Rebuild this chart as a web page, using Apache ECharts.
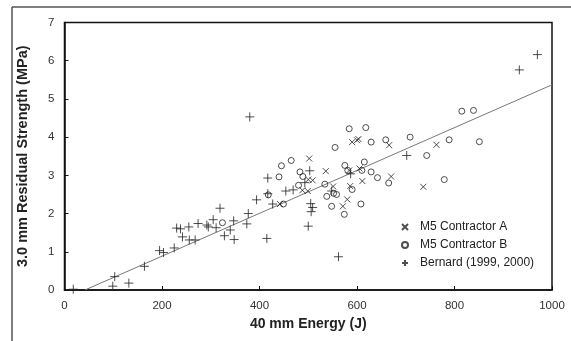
<!DOCTYPE html>
<html>
<head>
<meta charset="utf-8">
<script src="https://cdn.jsdelivr.net/npm/echarts@6/dist/echarts.min.js"></script>
<style>html,body{margin:0;padding:0;background:#fff}#c{width:571px;height:341px}</style>
</head>
<body>
<div id="c"></div>
<script>
var seriesNames = ['M5 Contractor A', 'M5 Contractor B', 'Bernard (1999, 2000)'];
var xTicks = [0, 200, 400, 600, 800, 1000];
var yTicks = [0, 1, 2, 3, 4, 5, 6, 7];

var contractorA = [
  [502,3.44],[536,3.11],[584,3.13],[605,3.18],[590,3.87],[600,3.92],[603,3.95],
  [666,3.79],[670,2.97],[611,2.85],[500,2.89],[509,2.87],[488,2.61],[499,2.59],
  [551,2.71],[586,2.72],[580,2.37],[571,2.19],[442,2.25],[763,3.80],[736,2.70]
];
var contractorB = [
  [584,4.22],[618,4.25],[629,3.87],[555,3.73],[659,3.93],[465,3.39],[445,3.25],
  [483,3.09],[489,2.97],[440,2.96],[480,2.74],[418,2.49],[449,2.25],[324,1.76],
  [575,3.26],[581,3.13],[615,3.35],[610,3.13],[629,3.09],[642,2.94],[665,2.80],
  [534,2.77],[538,2.45],[552,2.53],[558,2.50],[548,2.19],[574,1.98],[590,2.63],
  [608,2.25],[709,4.00],[743,3.52],[789,3.93],[851,3.88],[815,4.68],[839,4.70],
  [779,2.89]
];
var bernard = [
  [18,0.02],[99,0.10],[103,0.35],[132,0.18],[164,0.62],[195,1.03],[203,0.98],
  [225,1.10],[230,1.62],[238,1.60],[242,1.39],[255,1.65],[256,1.31],[268,1.31],
  [274,1.74],[292,1.70],[295,1.65],[305,1.84],[311,1.63],[319,2.14],[328,1.42],
  [340,1.57],[347,1.81],[348,1.32],[374,1.73],[377,2.00],[380,4.53],[394,2.36],
  [415,1.35],[417,2.93],[417,2.52],[427,2.25],[454,2.59],[469,2.62],[493,2.81],
  [500,1.67],[503,3.12],[505,2.26],[509,2.16],[506,2.05],[548,2.59],[562,0.87],
  [587,3.04],[702,3.52],[933,5.76],[970,6.16]
];
var trendLine = [[42,0],[1000,5.37]];

var markColor = '#222';
var crossPath = 'path://M0,0L10,10M10,0L0,10';
var plusPath = 'path://M5,0L5,10M0,5L10,5';

var chart = echarts.init(document.getElementById('c'), null, {renderer:'canvas'});
var option = {
  animation: false,
  backgroundColor: '#fff',
  textStyle: {fontFamily: 'Liberation Sans, Arial, sans-serif'},
  grid: {left: 64.5, top: 22.5, right: 19, bottom: 51, show: true, borderColor: '#111', borderWidth: 1.5, backgroundColor: 'transparent'},
  legend: {
    orient: 'vertical', left: 396, top: 216, itemWidth: 6, itemHeight: 6, itemGap: 6,
    data: seriesNames,
    textStyle: {fontSize: 12, color: '#222', padding: [0,0,0,7], fontFamily: 'Liberation Sans, Arial, sans-serif'}
  },
  xAxis: {
    type: 'value', min: xTicks[0], max: xTicks[xTicks.length-1], interval: 200,
    name: '40 mm Energy (J)', nameLocation: 'middle', nameGap: 27,
    nameTextStyle: {fontSize: 14, fontWeight: 'bold', color: '#222'},
    axisLine: {show: true, lineStyle: {color: '#111', width: 1.5}},
    axisTick: {show: true, inside: true, length: 4, lineStyle: {color: '#111'}},
    axisLabel: {fontSize: 11.5, color: '#333', margin: 10, formatter: function (v) { return String(v); }},
    splitLine: {show: false}
  },
  yAxis: {
    type: 'value', min: yTicks[0], max: yTicks[yTicks.length-1], interval: 1,
    name: '3.0 mm Residual Strength (MPa)', nameLocation: 'middle', nameGap: 34,
    nameTextStyle: {fontSize: 14.5, fontWeight: 'bold', color: '#222'},
    axisLine: {show: true, lineStyle: {color: '#111', width: 1.5}},
    axisTick: {show: true, inside: true, length: 4, lineStyle: {color: '#111'}},
    axisLabel: {fontSize: 11.5, color: '#333', margin: 10},
    splitLine: {show: false}
  },
  graphic: [
    {type: 'line', shape: {x1: 12, y1: 7, x2: 571, y2: 7}, style: {stroke: '#555', lineWidth: 1.5}},
    {type: 'line', shape: {x1: 12, y1: 7, x2: 12, y2: 341}, style: {stroke: '#555', lineWidth: 1.5}}
  ],
  series: [
    {type: 'line', data: trendLine, symbol: 'none', lineStyle: {color: '#777', width: 1}, silent: true, z: 1},
    {name: seriesNames[0], type: 'scatter', data: contractorA, symbol: crossPath, symbolSize: 6,
     itemStyle: {color: 'rgba(0,0,0,0)', borderColor: markColor, borderWidth: 1}, z: 3},
    {name: seriesNames[1], type: 'scatter', data: contractorB, symbol: 'circle', symbolSize: 6,
     itemStyle: {color: 'rgba(0,0,0,0)', borderColor: markColor, borderWidth: 1}, z: 3},
    {name: seriesNames[2], type: 'scatter', data: bernard, symbol: plusPath, symbolSize: 9,
     itemStyle: {color: 'rgba(0,0,0,0)', borderColor: markColor, borderWidth: 1}, z: 3}
  ]
};
chart.setOption(option);
</script>
</body>
</html>
